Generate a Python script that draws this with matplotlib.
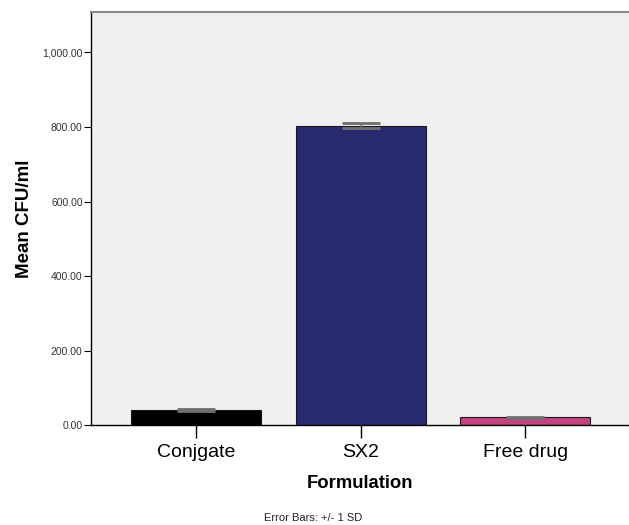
import numpy as np
import matplotlib as mpl
mpl.use('Agg')
import matplotlib.pyplot as plt
from matplotlib.ticker import FuncFormatter

plt.rcParams['font.family'] = ['Liberation Sans', 'DejaVu Sans']

# valores
formulations = ["Conjgate", "SX2", "Free drug"]
mean_cfu = [40.0, 803.0, 21.0]
sd_cfu = [3.0, 7.0, 2.0]
bar_colors = ["#000000", "#282A70", "#C2437F"]

fig = plt.figure(figsize=(6.29, 5.25), dpi=100)
ax = fig.add_axes([0.1447, 0.19, 0.8553, 0.787])
ax.set_facecolor("#F0F0F0")

x = np.arange(len(formulations))
ax.bar(x, mean_cfu, width=0.79, color=bar_colors, edgecolor="#1a1a1a", linewidth=0.8, zorder=2)
ax.errorbar(x, mean_cfu, yerr=sd_cfu, fmt='none', ecolor="#707070",
            elinewidth=1, capsize=14, capthick=2, zorder=3)

ax.set_xlim(-0.64, 2.63)
ax.set_ylim(0, 1108)
ax.set_yticks([0, 200, 400, 600, 800, 1000])
ax.yaxis.set_major_formatter(FuncFormatter(lambda v, p: "{:,.2f}".format(v)))
ax.tick_params(axis='y', labelsize=7.5, labelcolor="#333333", length=5, width=0.8, pad=1)
ax.set_xticks(x)
ax.set_xticklabels(formulations, fontsize=14)
ax.tick_params(axis='x', length=9.5, width=1, pad=4)

ax.spines['right'].set_visible(False)
ax.spines['top'].set_color("#888888")
ax.spines['top'].set_linewidth(1.5)
ax.spines['left'].set_linewidth(1)
ax.spines['bottom'].set_linewidth(1)

ax.set_ylabel("Mean CFU/ml", fontsize=13.5, fontweight='bold', labelpad=7)
ax.set_xlabel("Formulation", fontsize=13.3, fontweight='bold', labelpad=10)

fig.text(0.498, 0.014, "Error Bars: +/- 1 SD", fontsize=8, ha='center', va='center', color="#222222")

fig.savefig("out.png", dpi=100)
